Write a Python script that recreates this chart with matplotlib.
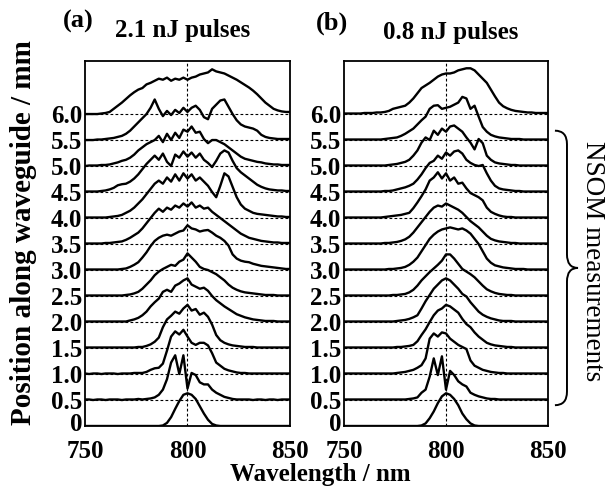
"""
Stacked spectra along the waveguide, two pulse energies side by side.
"""

import numpy as np
import matplotlib
matplotlib.use("Agg")
import matplotlib.pyplot as plt
import matplotlib.patches as mpatches
import matplotlib.transforms as mtransforms
from matplotlib.path import Path

FONT = "Liberation Serif"
W, H = 611, 495

WAVELENGTH = list(range(750, 851, 2))  # nm, sampling of every spectrum
POSITIONS = [0.0, 0.5, 1.0, 1.5, 2.0, 2.5, 3.0, 3.5, 4.0, 4.5, 5.0, 5.5, 6.0]
POSITION_LABELS = ["0", "0.5", "1.0", "1.5", "2.0", "2.5", "3.0",
                   "3.5", "4.0", "4.5", "5.0", "5.5", "6.0"]
WL_TICKS = [750, 800, 850]

# ---- panel (a): 2.1 nJ pulses, spectrum height per position ----
A_00 = [0, 0, 0, 0, 0, 0, 0, 0, 0, 0,
        0, 0, 0, 0, 0, 0, 0, 0, 0, 0.01,
        0.06, 0.17, 0.33, 0.48, 0.60, 0.63, 0.60, 0.52, 0.38, 0.24,
        0.12, 0.04, 0.01, 0, 0, 0, 0, 0, 0, 0,
        0, 0, 0, 0, 0, 0, 0, 0, 0, 0,
        0]
A_05 = [0.01, 0.01, 0.00, 0.01, 0.01, 0.00, 0.01, 0.01, 0.01, 0.00,
        0.01, 0.01, 0.01, 0.02, 0.01, 0.02, 0.03, 0.05, 0.10, 0.20,
        0.40, 0.72, 0.86, 0.50, 0.86, 0.22, 0.52, 0.48, 0.34, 0.30,
        0.30, 0.20, 0.14, 0.10, 0.06, 0.04, 0.02, 0.01, 0.01, 0.01,
        0.01, 0.00, 0.01, 0.01, 0.00, 0.01, 0.01, 0.00, 0.01, 0.01,
        0.01]
A_10 = [0.01, 0.00, 0.01, 0.01, 0.00, 0.01, 0.01, 0.01, 0.00, 0.01,
        0.01, 0.01, 0.02, 0.02, 0.02, 0.04, 0.08, 0.11, 0.12, 0.20,
        0.45, 0.72, 0.82, 0.76, 0.85, 0.72, 0.60, 0.56, 0.60, 0.60,
        0.55, 0.40, 0.22, 0.16, 0.10, 0.07, 0.05, 0.03, 0.02, 0.02,
        0.01, 0.01, 0.01, 0.01, 0.01, 0.01, 0.01, 0.01, 0.01, 0.01,
        0.01]
A_15 = [0.01, 0.01, 0.01, 0.01, 0.01, 0.01, 0.01, 0.01, 0.01, 0.01,
        0.01, 0.01, 0.01, 0.02, 0.02, 0.04, 0.07, 0.12, 0.20, 0.40,
        0.55, 0.62, 0.70, 0.66, 0.76, 0.83, 0.72, 0.75, 0.64, 0.68,
        0.60, 0.45, 0.25, 0.15, 0.10, 0.07, 0.05, 0.04, 0.03, 0.02,
        0.02, 0.02, 0.01, 0.01, 0.01, 0.01, 0.01, 0.01, 0.01, 0.01,
        0.01]
A_20 = [0.01, 0.01, 0.01, 0.01, 0.01, 0.01, 0.01, 0.01, 0.01, 0.01,
        0.01, 0.03, 0.05, 0.08, 0.13, 0.20, 0.30, 0.38, 0.45, 0.58,
        0.62, 0.58, 0.70, 0.74, 0.80, 0.84, 0.72, 0.68, 0.64, 0.66,
        0.60, 0.50, 0.42, 0.36, 0.30, 0.25, 0.20, 0.15, 0.12, 0.09,
        0.07, 0.05, 0.04, 0.03, 0.02, 0.02, 0.02, 0.01, 0.01, 0.01,
        0.01]
A_25 = [0.01, 0.01, 0.01, 0.01, 0.01, 0.01, 0.01, 0.01, 0.01, 0.01,
        0.02, 0.03, 0.05, 0.08, 0.14, 0.22, 0.30, 0.40, 0.47, 0.52,
        0.56, 0.60, 0.58, 0.66, 0.70, 0.82, 0.74, 0.66, 0.56, 0.52,
        0.50, 0.46, 0.42, 0.36, 0.30, 0.22, 0.16, 0.12, 0.09, 0.07,
        0.06, 0.05, 0.04, 0.03, 0.02, 0.02, 0.02, 0.01, 0.01, 0.01,
        0.01]
A_30 = [0.01, 0.01, 0.01, 0.01, 0.01, 0.01, 0.01, 0.01, 0.01, 0.02,
        0.03, 0.06, 0.10, 0.15, 0.24, 0.34, 0.46, 0.56, 0.62, 0.66,
        0.68, 0.66, 0.70, 0.74, 0.76, 0.86, 0.80, 0.78, 0.74, 0.76,
        0.77, 0.72, 0.66, 0.62, 0.56, 0.47, 0.30, 0.22, 0.18, 0.16,
        0.15, 0.12, 0.10, 0.08, 0.07, 0.06, 0.05, 0.04, 0.03, 0.02,
        0.02]
A_35 = [0.01, 0.01, 0.01, 0.01, 0.01, 0.02, 0.02, 0.03, 0.04, 0.05,
        0.08, 0.12, 0.17, 0.22, 0.30, 0.40, 0.50, 0.60, 0.68, 0.62,
        0.70, 0.66, 0.74, 0.70, 0.78, 0.72, 0.80, 0.70, 0.74, 0.68,
        0.70, 0.62, 0.56, 0.50, 0.44, 0.38, 0.32, 0.26, 0.20, 0.16,
        0.12, 0.10, 0.08, 0.06, 0.05, 0.04, 0.03, 0.03, 0.02, 0.02,
        0.02]
A_40 = [0.01, 0.01, 0.01, 0.01, 0.01, 0.01, 0.02, 0.03, 0.04, 0.06,
        0.10, 0.14, 0.20, 0.28, 0.36, 0.46, 0.56, 0.66, 0.72, 0.66,
        0.78, 0.70, 0.84, 0.72, 0.86, 0.76, 0.84, 0.72, 0.78, 0.70,
        0.62, 0.50, 0.40, 0.62, 0.86, 0.80, 0.60, 0.40, 0.26, 0.18,
        0.14, 0.10, 0.08, 0.07, 0.06, 0.05, 0.04, 0.03, 0.03, 0.02,
        0.02]
A_45 = [0.01, 0.01, 0.01, 0.01, 0.02, 0.03, 0.05, 0.08, 0.13, 0.15,
        0.16, 0.20, 0.26, 0.34, 0.44, 0.54, 0.62, 0.70, 0.62, 0.74,
        0.58, 0.50, 0.72, 0.66, 0.78, 0.68, 0.76, 0.66, 0.74, 0.62,
        0.56, 0.48, 0.60, 0.74, 0.80, 0.76, 0.60, 0.46, 0.38, 0.32,
        0.26, 0.20, 0.14, 0.10, 0.07, 0.05, 0.04, 0.03, 0.03, 0.02,
        0.02]
A_50 = [0.00, 0.01, 0.01, 0.01, 0.02, 0.02, 0.03, 0.05, 0.07, 0.10,
        0.12, 0.16, 0.22, 0.30, 0.36, 0.42, 0.46, 0.50, 0.58, 0.46,
        0.62, 0.50, 0.64, 0.54, 0.70, 0.66, 0.76, 0.64, 0.66, 0.52,
        0.44, 0.50, 0.50, 0.46, 0.42, 0.36, 0.30, 0.24, 0.18, 0.14,
        0.12, 0.10, 0.08, 0.07, 0.05, 0.04, 0.03, 0.03, 0.02, 0.02,
        0.02]
A_55 = [0.00, 0.00, 0.00, 0.01, 0.01, 0.02, 0.03, 0.04, 0.06, 0.08,
        0.12, 0.18, 0.26, 0.34, 0.42, 0.50, 0.62, 0.78, 0.60, 0.46,
        0.56, 0.48, 0.58, 0.52, 0.62, 0.54, 0.62, 0.66, 0.58, 0.44,
        0.40, 0.60, 0.68, 0.76, 0.78, 0.64, 0.50, 0.38, 0.30, 0.26,
        0.24, 0.22, 0.18, 0.10, 0.06, 0.04, 0.03, 0.02, 0.02, 0.02,
        0.02]
A_60 = [0.00, 0.00, 0.00, 0.00, 0.01, 0.02, 0.04, 0.10, 0.16, 0.22,
        0.29, 0.36, 0.42, 0.47, 0.50, 0.57, 0.60, 0.64, 0.68, 0.66,
        0.70, 0.64, 0.68, 0.66, 0.70, 0.66, 0.70, 0.72, 0.76, 0.78,
        0.80, 0.86, 0.82, 0.80, 0.78, 0.74, 0.70, 0.66, 0.61, 0.56,
        0.51, 0.45, 0.38, 0.30, 0.22, 0.16, 0.10, 0.07, 0.05, 0.04,
        0.04]

# ---- panel (b): 0.8 nJ pulses ----
B_00 = [0, 0, 0, 0, 0, 0, 0, 0, 0, 0,
        0, 0, 0, 0, 0, 0, 0, 0, 0, 0.01,
        0.05, 0.15, 0.28, 0.44, 0.57, 0.63, 0.60, 0.52, 0.40, 0.24,
        0.13, 0.05, 0.01, 0, 0, 0, 0, 0, 0, 0,
        0, 0, 0, 0, 0, 0, 0, 0, 0, 0,
        0]
B_05 = [0.01, 0.01, 0.01, 0.01, 0.01, 0.01, 0.01, 0.01, 0.01, 0.01,
        0.01, 0.01, 0.01, 0.01, 0.01, 0.01, 0.02, 0.03, 0.05, 0.14,
        0.20, 0.45, 0.80, 0.48, 0.84, 0.20, 0.56, 0.48, 0.36, 0.30,
        0.26, 0.14, 0.10, 0.07, 0.05, 0.03, 0.02, 0.02, 0.01, 0.01,
        0.01, 0.01, 0.01, 0.01, 0.01, 0.01, 0.01, 0.01, 0.01, 0.01,
        0.01]
B_10 = [0.01, 0.01, 0.01, 0.01, 0.01, 0.01, 0.01, 0.01, 0.01, 0.01,
        0.01, 0.01, 0.01, 0.02, 0.03, 0.04, 0.06, 0.08, 0.12, 0.17,
        0.30, 0.68, 0.78, 0.72, 0.80, 0.78, 0.68, 0.62, 0.56, 0.52,
        0.48, 0.26, 0.16, 0.12, 0.08, 0.06, 0.04, 0.03, 0.02, 0.02,
        0.01, 0.01, 0.01, 0.01, 0.01, 0.01, 0.01, 0.01, 0.01, 0.01,
        0.01]
B_15 = [0.01, 0.01, 0.01, 0.01, 0.01, 0.01, 0.01, 0.01, 0.01, 0.01,
        0.01, 0.01, 0.01, 0.02, 0.02, 0.03, 0.04, 0.06, 0.13, 0.25,
        0.36, 0.50, 0.63, 0.72, 0.76, 0.83, 0.80, 0.74, 0.68, 0.56,
        0.46, 0.40, 0.30, 0.22, 0.16, 0.10, 0.07, 0.05, 0.04, 0.03,
        0.02, 0.02, 0.01, 0.01, 0.01, 0.01, 0.01, 0.01, 0.01, 0.01,
        0.01]
B_20 = [0.01, 0.01, 0.01, 0.01, 0.01, 0.01, 0.01, 0.01, 0.01, 0.01,
        0.01, 0.01, 0.01, 0.02, 0.03, 0.04, 0.06, 0.09, 0.13, 0.26,
        0.40, 0.52, 0.64, 0.72, 0.80, 0.84, 0.80, 0.72, 0.64, 0.54,
        0.49, 0.38, 0.29, 0.20, 0.14, 0.10, 0.07, 0.05, 0.03, 0.02,
        0.02, 0.02, 0.01, 0.01, 0.01, 0.01, 0.01, 0.01, 0.01, 0.01,
        0.01]
B_25 = [0.01, 0.01, 0.01, 0.01, 0.01, 0.01, 0.01, 0.01, 0.01, 0.01,
        0.01, 0.01, 0.02, 0.02, 0.03, 0.04, 0.07, 0.12, 0.20, 0.30,
        0.38, 0.46, 0.53, 0.60, 0.68, 0.80, 0.80, 0.72, 0.62, 0.52,
        0.47, 0.42, 0.36, 0.28, 0.20, 0.13, 0.09, 0.06, 0.04, 0.03,
        0.02, 0.02, 0.01, 0.01, 0.01, 0.01, 0.01, 0.01, 0.01, 0.01,
        0.01]
B_30 = [0.01, 0.01, 0.01, 0.01, 0.01, 0.01, 0.01, 0.01, 0.01, 0.01,
        0.01, 0.02, 0.02, 0.03, 0.04, 0.06, 0.10, 0.16, 0.24, 0.36,
        0.48, 0.60, 0.68, 0.74, 0.78, 0.80, 0.82, 0.80, 0.78, 0.80,
        0.76, 0.70, 0.60, 0.50, 0.36, 0.22, 0.14, 0.09, 0.07, 0.05,
        0.04, 0.03, 0.02, 0.02, 0.02, 0.01, 0.01, 0.01, 0.01, 0.01,
        0.01]
B_35 = [0.01, 0.01, 0.01, 0.01, 0.01, 0.01, 0.01, 0.01, 0.01, 0.01,
        0.02, 0.02, 0.03, 0.04, 0.06, 0.09, 0.14, 0.22, 0.32, 0.42,
        0.52, 0.62, 0.70, 0.74, 0.72, 0.78, 0.74, 0.70, 0.66, 0.60,
        0.52, 0.44, 0.38, 0.32, 0.24, 0.16, 0.10, 0.07, 0.05, 0.04,
        0.03, 0.02, 0.02, 0.01, 0.01, 0.01, 0.01, 0.01, 0.01, 0.01,
        0.01]
B_40 = [0.01, 0.01, 0.01, 0.01, 0.01, 0.01, 0.01, 0.01, 0.01, 0.01,
        0.02, 0.03, 0.04, 0.05, 0.06, 0.08, 0.10, 0.19, 0.30, 0.42,
        0.55, 0.72, 0.78, 0.88, 0.76, 0.86, 0.72, 0.78, 0.66, 0.68,
        0.57, 0.48, 0.44, 0.40, 0.34, 0.20, 0.12, 0.08, 0.05, 0.03,
        0.02, 0.02, 0.01, 0.01, 0.01, 0.01, 0.01, 0.01, 0.01, 0.01,
        0.01]
B_45 = [0.01, 0.01, 0.01, 0.01, 0.01, 0.01, 0.01, 0.01, 0.01, 0.01,
        0.02, 0.02, 0.03, 0.05, 0.07, 0.09, 0.12, 0.16, 0.24, 0.34,
        0.46, 0.56, 0.60, 0.70, 0.64, 0.76, 0.70, 0.78, 0.80, 0.74,
        0.62, 0.56, 0.52, 0.50, 0.52, 0.36, 0.22, 0.12, 0.07, 0.05,
        0.04, 0.03, 0.02, 0.02, 0.01, 0.01, 0.01, 0.01, 0.01, 0.01,
        0.01]
B_50 = [0.01, 0.01, 0.01, 0.01, 0.01, 0.01, 0.01, 0.01, 0.01, 0.01,
        0.01, 0.02, 0.03, 0.04, 0.06, 0.08, 0.12, 0.20, 0.30, 0.45,
        0.55, 0.50, 0.68, 0.60, 0.72, 0.66, 0.76, 0.78, 0.72, 0.66,
        0.55, 0.45, 0.32, 0.52, 0.44, 0.20, 0.12, 0.07, 0.05, 0.04,
        0.03, 0.02, 0.02, 0.01, 0.01, 0.01, 0.01, 0.01, 0.01, 0.01,
        0.01]
B_55 = [0.01, 0.01, 0.01, 0.01, 0.01, 0.01, 0.01, 0.01, 0.01, 0.01,
        0.02, 0.03, 0.04, 0.05, 0.08, 0.12, 0.17, 0.22, 0.30, 0.38,
        0.45, 0.60, 0.66, 0.67, 0.60, 0.62, 0.64, 0.68, 0.72, 0.83,
        0.80, 0.60, 0.66, 0.45, 0.25, 0.16, 0.10, 0.07, 0.05, 0.04,
        0.03, 0.02, 0.02, 0.02, 0.01, 0.01, 0.01, 0.01, 0.01, 0.01,
        0.01]
B_60 = [0.01, 0.01, 0.01, 0.01, 0.01, 0.02, 0.02, 0.02, 0.03, 0.03,
        0.04, 0.06, 0.10, 0.12, 0.14, 0.16, 0.22, 0.30, 0.40, 0.50,
        0.55, 0.60, 0.66, 0.72, 0.76, 0.78, 0.78, 0.80, 0.84, 0.86,
        0.88, 0.88, 0.84, 0.76, 0.68, 0.60, 0.47, 0.34, 0.22, 0.15,
        0.11, 0.08, 0.06, 0.05, 0.04, 0.03, 0.03, 0.02, 0.02, 0.02,
        0.02]

SPECTRA_A = [A_00, A_05, A_10, A_15, A_20, A_25, A_30,
             A_35, A_40, A_45, A_50, A_55, A_60]
SPECTRA_B = [B_00, B_05, B_10, B_15, B_20, B_25, B_30,
             B_35, B_40, B_45, B_50, B_55, B_60]


def fpos(x, y):
    """pixel position (from top-left) -> figure fraction"""
    return x / W, 1 - y / H


def draw_panel(ax, spectra):
    ax.set_xlim(750, 850)
    ax.set_ylim(0, 7.02)
    for p in POSITIONS[1:]:
        ax.axhline(p, color="black", lw=0.8, ls=(0, (2.5, 2.0)), zorder=1)
    ax.axvline(800, color="black", lw=0.8, ls=(0, (2.5, 2.0)), zorder=1)
    for p, spec in zip(POSITIONS, spectra):
        ax.plot(WAVELENGTH, p + np.asarray(spec), color="black", lw=1.7,
                solid_joinstyle="round", zorder=3)
    ax.set_xticks(WL_TICKS)
    ax.set_xticklabels([str(t) for t in WL_TICKS])
    ax.set_yticks(POSITIONS)
    ax.set_yticklabels(POSITION_LABELS)
    ax.tick_params(length=0, pad=2, labelsize=18)
    ax.tick_params(axis="x", pad=10)
    for lab in ax.get_xticklabels() + ax.get_yticklabels():
        lab.set_fontfamily(FONT)
        lab.set_fontweight("bold")
    for s in ax.spines.values():
        s.set_linewidth(1.3)


fig = plt.figure(figsize=(W / 100, H / 100), dpi=100)
ax_a = fig.add_axes([85 / W, (H - 426) / H, 205 / W, 365 / H])
ax_b = fig.add_axes([344 / W, (H - 426) / H, 204 / W, 365 / H])
draw_panel(ax_a, SPECTRA_A)
draw_panel(ax_b, SPECTRA_B)

# nudge the "0" labels up a few pixels so they clear the wavelength labels
lift = mtransforms.ScaledTranslation(0, 4 / 100, fig.dpi_scale_trans)
for ax in (ax_a, ax_b):
    zero = ax.yaxis.get_major_ticks()[0].label1
    zero.set_transform(zero.get_transform() + lift)

bold = dict(family=FONT, fontweight="bold", color="black")
fig.text(*fpos(78, 21), "(a)", ha="center", va="center", fontsize=19, **bold)
fig.text(*fpos(183, 30), "2.1 nJ pulses", ha="center", va="center",
         fontsize=18, **bold)
fig.text(*fpos(332, 23), "(b)", ha="center", va="center", fontsize=19, **bold)
fig.text(*fpos(451, 32), "0.8 nJ pulses", ha="center", va="center",
         fontsize=18, **bold)
fig.text(*fpos(320, 474), "Wavelength / nm", ha="center", va="center",
         fontsize=18, **bold)
fig.text(*fpos(24, 233), "Position along waveguide / mm", ha="center",
         va="center", rotation=90, fontsize=21, **bold)
fig.text(*fpos(592, 261), "NSOM measurements", ha="center", va="center",
         rotation=-90, fontsize=19.5, family=FONT, color="black")

# curly brace grouping the NSOM rows (x in axes fraction, y in data units)
trans = mtransforms.blended_transform_factory(ax_b.transAxes, ax_b.transData)
x0, x1, x2 = 1.034, 1.093, 1.147
top, bot, mid, r = 5.68, 0.40, 3.04, 0.26
verts = [(x0, top), (x1, top), (x1, top - r),
         (x1, mid + r),
         (x1, mid), (x2, mid),
         (x1, mid), (x1, mid - r),
         (x1, bot + r),
         (x1, bot), (x0, bot)]
codes = [Path.MOVETO, Path.CURVE3, Path.CURVE3,
         Path.LINETO,
         Path.CURVE3, Path.CURVE3,
         Path.CURVE3, Path.CURVE3,
         Path.LINETO,
         Path.CURVE3, Path.CURVE3]
brace = mpatches.PathPatch(Path(verts, codes), transform=trans, fill=False,
                           edgecolor="black", lw=1.4, clip_on=False)
ax_b.add_patch(brace)

fig.savefig("out.png", dpi=100, facecolor="white")
